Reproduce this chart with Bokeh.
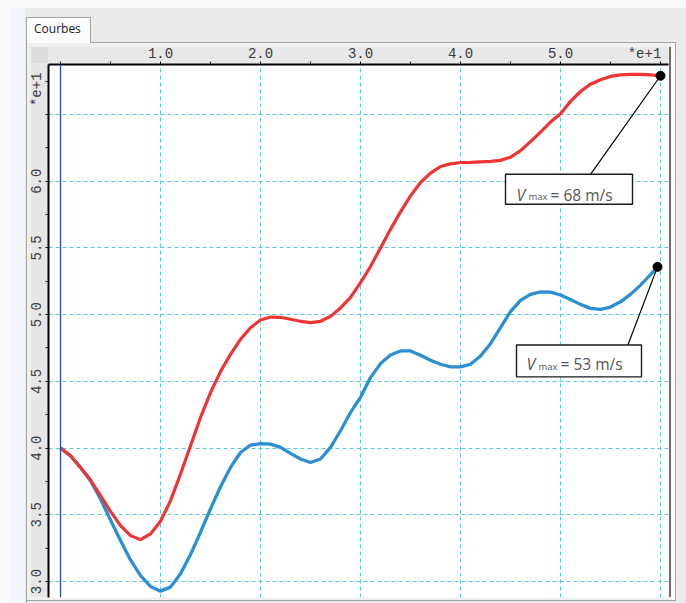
from bokeh.plotting import figure
from bokeh.layouts import column
from bokeh.models import (Range1d, FixedTicker, Span, Label, ColumnDataSource, Div,
                          InlineStyleSheet)
from bokeh.embed import file_html
from bokeh.resources import INLINE

# ---- data (displayed in units of 1e+1, as on the axes) ----
t_red = [0.0, 0.1, 0.2, 0.3, 0.4, 0.5, 0.6, 0.7, 0.8, 0.9, 1.0, 1.1, 1.2, 1.3, 1.4, 1.5,
         1.6, 1.7, 1.8, 1.9, 2.0, 2.1, 2.2, 2.3, 2.4, 2.5, 2.6, 2.7, 2.8, 2.9, 3.0, 3.1,
         3.2, 3.3, 3.4, 3.5, 3.6, 3.7, 3.8, 3.9, 4.0, 4.1, 4.2, 4.3, 4.4, 4.5, 4.6, 4.7,
         4.8, 4.9, 5.0, 5.1, 5.2, 5.3, 5.4, 5.5, 5.6, 5.7, 5.8, 5.9, 6.0]
v_red = [4.00, 3.942, 3.855, 3.76, 3.643, 3.526, 3.419, 3.344, 3.314, 3.357, 3.451, 3.606,
         3.806, 4.017, 4.229, 4.416, 4.573, 4.703, 4.815, 4.902, 4.96, 4.982, 4.98, 4.965,
         4.95, 4.94, 4.95, 4.987, 5.05, 5.13, 5.24, 5.36, 5.50, 5.64, 5.77, 5.89, 5.99,
         6.06, 6.11, 6.13, 6.14, 6.141, 6.145, 6.149, 6.156, 6.179, 6.229, 6.296, 6.368,
         6.443, 6.505, 6.598, 6.672, 6.727, 6.76, 6.785, 6.797, 6.80, 6.80, 6.797, 6.79]

t_blue = [0.0, 0.1, 0.2, 0.3, 0.4, 0.5, 0.6, 0.7, 0.8, 0.9, 1.0, 1.1, 1.2, 1.3, 1.4, 1.5,
          1.6, 1.7, 1.8, 1.9, 2.0, 2.1, 2.2, 2.3, 2.4, 2.5, 2.6, 2.7, 2.8, 2.9, 3.0, 3.1,
          3.2, 3.3, 3.4, 3.5, 3.6, 3.7, 3.8, 3.9, 4.0, 4.1, 4.2, 4.3, 4.4, 4.5, 4.6, 4.7,
          4.8, 4.9, 5.0, 5.1, 5.2, 5.3, 5.4, 5.5, 5.6, 5.7, 5.8, 5.9, 5.97]
v_blue = [4.00, 3.942, 3.855, 3.755, 3.618, 3.461, 3.307, 3.162, 3.045, 2.963, 2.928,
          2.958, 3.058, 3.202, 3.369, 3.544, 3.71, 3.855, 3.967, 4.022, 4.034, 4.03, 4.005,
          3.96, 3.918, 3.892, 3.918, 4.005, 4.13, 4.267, 4.38, 4.528, 4.633, 4.698, 4.728,
          4.728, 4.695, 4.658, 4.628, 4.608, 4.608, 4.628, 4.69, 4.782, 4.902, 5.022, 5.107,
          5.152, 5.171, 5.169, 5.147, 5.114, 5.077, 5.047, 5.04, 5.057, 5.096, 5.152, 5.221,
          5.30, 5.358]

x_major = [0, 1, 2, 3, 4, 5, 6]
x_minor = [0.5, 1.5, 2.5, 3.5, 4.5, 5.5]
NB = "\u00a0"
x_labels = {0: "", 1: "1.0", 2: "2.0", 3: "3.0", 4: "4.0", 5: "5.0", 6: "*e+1" + NB * 3}
y_major = [3.0, 3.5, 4.0, 4.5, 5.0, 5.5, 6.0, 6.5]
y_minor = [3.25, 3.75, 4.25, 4.75, 5.25, 5.75, 6.25, 6.75]
y_labels = {3.0: "3.0", 3.5: "3.5", 4.0: "4.0", 4.5: "4.5", 5.0: "5.0", 5.5: "5.5",
            6.0: "6.0", 6.5: NB * 6 + "*e+1"}

vmax_red_text = "= 68 m/s"
vmax_blue_text = "= 53 m/s"
tab_title = "Courbes"

RED = "#ef3434"
BLUE = "#2c8fd3"


# page-pixel -> data helpers (layout positions only)
def X(px):
    return (px - 60) / 100.0


def Y(py):
    return 3 + (581 - py) / 133.7


FIG_H = 561
p = figure(width=686, height=FIG_H, output_backend="svg", toolbar_location=None,
           x_range=Range1d(X(48), X(668)), y_range=Range1d(Y(597), Y(63)),
           x_axis_location="above",
           min_border_left=48, min_border_right=18, min_border_top=21,
           min_border_bottom=FIG_H - 21 - 534,
           background_fill_color="white", border_fill_alpha=0,
           outline_line_color=None)

# ---- axes ----
for ax in (p.xaxis[0], p.yaxis[0]):
    ax.axis_line_color = "black"
    ax.axis_line_width = 2
    ax.major_tick_line_color = "black"
    ax.major_tick_out = 3
    ax.major_tick_in = 0
    ax.minor_tick_line_color = "black"
    ax.minor_tick_out = 3
    ax.minor_tick_in = 0
    ax.major_label_text_font = "Liberation Mono"
    ax.major_label_text_font_size = "14px"
    ax.major_label_text_color = "#3a3a3a"
    ax.major_label_standoff = 0

p.xaxis.ticker = FixedTicker(ticks=x_major, minor_ticks=x_minor)
p.xaxis.major_label_overrides = x_labels
p.yaxis.ticker = FixedTicker(ticks=y_major, minor_ticks=y_minor)
p.yaxis.major_label_overrides = y_labels
p.yaxis.major_label_orientation = "vertical"

p.xgrid.ticker = FixedTicker(ticks=x_major[1:])
p.ygrid.ticker = FixedTicker(ticks=y_major)
for g in (p.xgrid[0], p.ygrid[0]):
    g.grid_line_color = "#55c6dc"
    g.grid_line_dash = "4 3"
    g.grid_line_width = 1

p.add_layout(Span(location=0, dimension="height", line_color="#1f4fc0", line_width=1.3))

# ---- curves ----
src_r = ColumnDataSource(dict(t=t_red, v=v_red))
src_b = ColumnDataSource(dict(t=t_blue, v=v_blue))
p.line("t", "v", source=src_b, line_color=BLUE, line_width=3.3, line_join="round")
p.line("t", "v", source=src_r, line_color=RED, line_width=3.2, line_join="round")

# ---- annotations ----
p.segment(x0=[X(590), X(627)], y0=[Y(173), Y(345)],
          x1=[t_red[-1], t_blue[-1]], y1=[v_red[-1], v_blue[-1]],
          line_color="black", line_width=1.2)
p.scatter([t_red[-1], t_blue[-1]], [v_red[-1], v_blue[-1]], size=9, color="black")

p.quad(left=[X(505), X(516)], right=[X(632), X(641)],
       top=[Y(173), Y(344)], bottom=[Y(203), Y(376)],
       fill_color="white", line_color="#1a1a1a", line_width=1.4)


def vlabel(xv, xm, xe, base, sub_base, txt):
    common = dict(text_font="Open Sans", text_color="#555555", text_baseline="alphabetic")
    p.add_layout(Label(x=X(xv), y=Y(base), text="V", text_font_style="italic",
                       text_font_size="16px", **common))
    p.add_layout(Label(x=X(xm), y=Y(sub_base), text="max", text_font_size="9.5px", **common))
    p.add_layout(Label(x=X(xe), y=Y(base), text=txt, text_font_size="15.5px", **common))


vlabel(516, 528, 550, 193.5, 195.5, vmax_red_text)
vlabel(526, 538, 560, 363.5, 366, vmax_blue_text)

# ---- window chrome (tab + panel), drawn with CSS behind a transparent canvas ----
def layer(color, x, y, w, h):
    return f"linear-gradient({color},{color}) {x}px {y}px / {w}px {h}px no-repeat"


layers = [
    layer("#dcdcdc", 31, 47, 17, 16),     # axis corner
    layer("#e8e8e8", 48, 47, 620, 16),    # top axis band
    layer("#e6e6e6", 31, 63, 17, 534),    # left axis band
    layer("#6e6e6e", 669, 47, 2, 550),    # right edge of the plot
    layer("#fafafa", 671, 43, 4, 557),
    layer("#a3a3a3", 675, 42, 1, 559),    # panel right border
    layer("#a3a3a3", 26, 600, 650, 1),    # panel bottom border
    layer("#a3a3a3", 26, 42, 1, 561),     # panel left border
    layer("#a3a3a3", 90, 42, 586, 1),     # panel top border
    layer("#f0f0f0", 27, 43, 648, 557),   # panel interior
    layer("#a3a3a3", 26, 17, 65, 1),      # tab top
    layer("#a3a3a3", 26, 17, 1, 26),      # tab left
    layer("#a3a3a3", 90, 17, 1, 26),      # tab right
    layer("#fcfcfc", 27, 18, 63, 25),     # tab fill
    layer("#fafafa", 0, 0, 686, 8),       # top strip
    layer("#fafafa", 0, 0, 10, 603),      # left strip
    layer("#f2f5f9", 10, 8, 15, 595),     # light side strip
]
css = ":host { background: " + ", ".join(layers) + ", #ebebeb; }"

tab = Div(text=f'<div style="padding:21px 0 0 34px;font-family:\'Open Sans\';'
               f'font-size:12px;line-height:16px;color:#1a1a1a;white-space:nowrap;">'
               f'{tab_title}</div>',
          width=686, height=42, margin=0)

layout = column(tab, p, spacing=0, width=686, height=42 + FIG_H,
                stylesheets=[InlineStyleSheet(css=css)])

open("out.html", "w").write(file_html(layout, INLINE))
